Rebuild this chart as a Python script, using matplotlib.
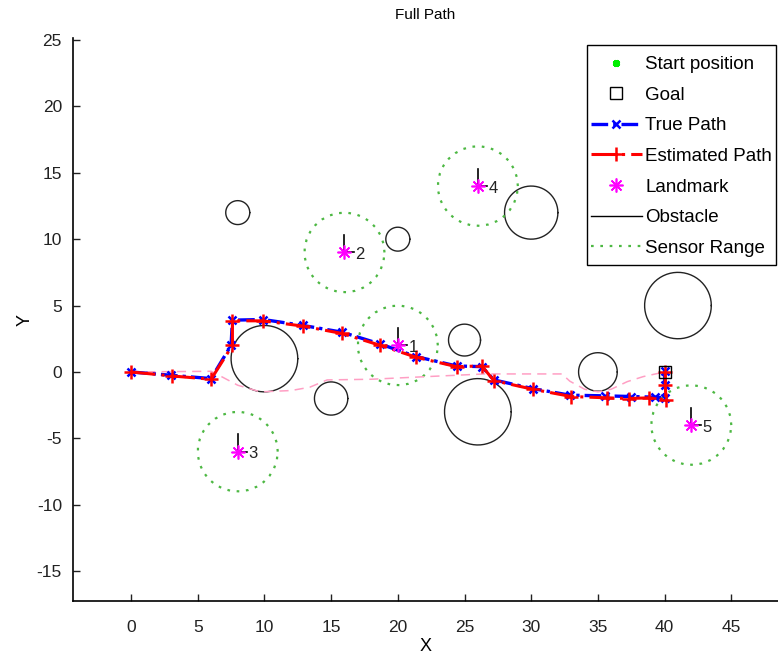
import numpy as np
import matplotlib
matplotlib.use("Agg")
import matplotlib.pyplot as plt
from matplotlib.lines import Line2D
from matplotlib.patches import Rectangle

plt.rcParams['font.family'] = ['Liberation Sans', 'DejaVu Sans']
plt.rcParams['axes.unicode_minus'] = False

# Robot poses
start = (0, 0)
goal = (40, 0)

true_x = [0, 3, 6, 7.5, 7.6, 9.9, 12.9, 15.8, 18.7, 21.4, 24.4, 26.3, 27.2, 30.1, 32.9, 35.5, 37.5, 39.3, 40, 40, 40]
true_y = [0, -0.25, -0.5, 2.0, 3.9, 3.95, 3.5, 3.0, 2.1, 1.15, 0.45, 0.4, -0.6, -1.25, -1.75, -1.8, -1.85, -1.9, -1.95, -1.0, 0.1]

est_x = [0, 3.05, 6.0, 7.6, 7.6, 9.9, 12.9, 15.8, 18.7, 21.4, 24.4, 26.3, 27.2, 30.1, 33.0, 35.7, 37.3, 38.8, 40.1, 40.05, 40.05]
est_y = [0, -0.3, -0.55, 2.0, 3.85, 3.85, 3.45, 2.9, 2.0, 1.1, 0.4, 0.45, -0.65, -1.3, -1.85, -1.95, -2.0, -1.95, -2.1, -1.0, 0.0]

# Planned path around obstacles
plan_x = [0, 6.0, 6.5, 8.0, 9.7, 12.0, 13.4, 14.7, 18.0, 22.2, 26.5, 32.3, 32.9, 34.0, 35.0, 36.0, 37.2, 38.4, 40.0]
plan_y = [0, 0.05, -0.2, -1.0, -1.5, -1.4, -1.15, -0.6, -0.55, -0.35, -0.15, -0.15, -0.7, -1.3, -1.5, -1.3, -0.73, -0.35, 0.0]

# Landmarks
lm_x = [20, 16, 8, 26, 42]
lm_y = [2, 9, -6, 14, -4]
lm_ids = ['1', '2', '3', '4', '5']
sensor_range = 3.0

# Obstacles (centre x, centre y, radius)
obs_x = [8, 20, 10, 15, 25, 30, 26, 35, 41]
obs_y = [12, 10, 1, -2, 2.4, 12, -3, 0, 5]
obs_r = [0.9, 0.9, 2.5, 1.25, 1.2, 2.0, 2.5, 1.45, 2.5]

xticks = [0, 5, 10, 15, 20, 25, 30, 35, 40, 45]
yticks = [-15, -10, -5, 0, 5, 10, 15, 20, 25]

ASTERISK = (8, 2, 0)

fig = plt.figure(figsize=(7.78, 6.55), dpi=100)
ax = fig.add_axes([73 / 778, 1 - 601 / 655, 1 - 73 / 778, (601 - 38) / 655])

theta = np.linspace(0, 2 * np.pi, 60)
for cx, cy, r in zip(obs_x, obs_y, obs_r):
    ax.plot(cx + r * np.cos(theta), cy + r * np.sin(theta), color='#222222', lw=1.0)

green = '#4db843'
th2 = np.linspace(0, 2 * np.pi, 30)
for cx, cy in zip(lm_x, lm_y):
    ax.plot(cx + sensor_range * np.cos(th2), cy + sensor_range * np.sin(th2),
            color=green, lw=1.6, ls=(0, (1.2, 3.0)))

ax.plot(plan_x, plan_y, color='#ff9fc4', lw=1.1, ls=(0, (6, 4)))

ax.plot(true_x, true_y, color='#0000ff', lw=2.4, ls=(0, (5, 1.5, 1, 1.5)),
        marker='x', ms=6, mew=1.8)
ax.plot(est_x, est_y, color='#ff0000', lw=2.2, ls=(0, (8, 2, 1, 2)),
        marker='+', ms=10, mew=1.8)

ax.plot([goal[0]], [goal[1]], marker='s', ms=8, mfc='none', mec='black', mew=1.0, ls='none')

for x, y, t in zip(lm_x, lm_y, lm_ids):
    ax.plot([x, x], [y, y + 1.3], color='black', lw=1.2)
    ax.plot([x, x + 0.7], [y, y], color='black', lw=1.2)
    ax.text(x + 0.8, y - 0.15, t, fontsize=12, ha='left', va='center', color='#222222')
ax.plot(lm_x, lm_y, ls='none', marker=ASTERISK, ms=10, mew=1.2, color='#ff00ff', mec='#ff00ff')

ax.set_xlim(-4.35, 48.5)
ax.set_ylim(-17.25, 25.15)
ax.set_xticks(xticks)
ax.set_yticks(yticks)
ax.tick_params(direction='in', length=5, width=1, labelsize=12.5, colors='#222222', pad=8)
ax.tick_params(axis='x', pad=14)
for s in ('top', 'right'):
    ax.spines[s].set_visible(False)
for s in ('left', 'bottom'):
    ax.spines[s].set_linewidth(1.2)

ax.set_title('Full Path', fontsize=11, pad=14)
ax.set_xlabel('X', fontsize=13, labelpad=2)
ax.set_ylabel('Y', fontsize=13, labelpad=2)

handles = [
    Line2D([], [], ls='none', marker=ASTERISK, color='#00ee00', mew=2.5, ms=5),
    Line2D([], [], ls='none', marker='s', mfc='none', mec='black', ms=8),
    Line2D([], [], color='#0000ff', lw=2.4, ls=(0, (5, 1.5, 1, 1.5)), marker='x', ms=6, mew=1.8),
    Line2D([], [], color='#ff0000', lw=2.2, ls=(0, (8, 2, 1, 2)), marker='+', ms=10, mew=1.8),
    Line2D([], [], ls='none', marker=ASTERISK, color='#ff00ff', mew=1.2, ms=10),
    Line2D([], [], color='black', lw=1.0),
    Line2D([], [], color=green, lw=1.6, ls=(0, (1.2, 3.0))),
]
labels = ['Start position', 'Goal', 'True Path', 'Estimated Path', 'Landmark', 'Obstacle', 'Sensor Range']

# Legend box
ax.add_patch(Rectangle((0.729, 0.5968), 0.9972 - 0.729, 0.9876 - 0.5968,
                       transform=ax.transAxes, facecolor='white', edgecolor='black',
                       lw=1.0, zorder=4))
leg = ax.legend(handles, labels, loc='upper left', bbox_to_anchor=(0.735, 0.968),
                fontsize=13.5, frameon=False, handlelength=2.7, handletextpad=0.18,
                labelspacing=0.72, borderpad=0, borderaxespad=0)
leg.set_zorder(5)

fig.savefig('out.png', dpi=100)
